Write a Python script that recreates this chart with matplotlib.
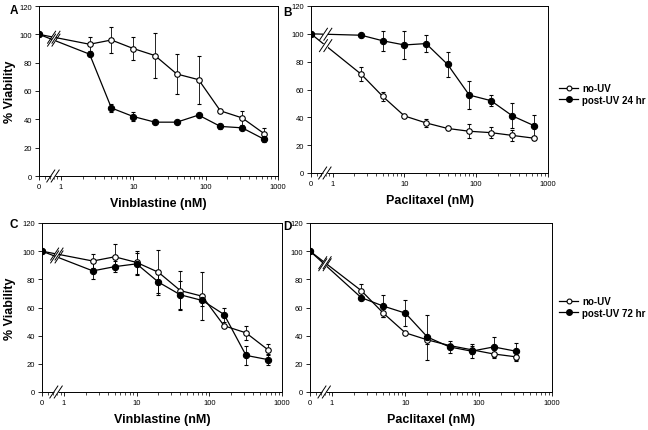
import matplotlib
matplotlib.use("Agg")
import matplotlib.pyplot as plt
from matplotlib.lines import Line2D
import numpy as np

plt.rcParams['font.family'] = ['Liberation Sans', 'DejaVu Sans']

# "0" concentration is drawn at x = 0.5 on the log axis
zero_pos = 0.5
conc = [2.5, 5, 10, 20, 40, 80, 160, 320, 640]
conc_d = [2.5, 5, 10, 20, 40, 80, 160, 320]

# panel A - vinblastine, 24 hr
a_no = [100, 93, 96, 90, 85, 72, 68, 46, 41, 30]
a_no_err = [0, 5, 9, 8, 16, 14, 17, 1, 5, 4]
a_post = [100, 86, 48, 42, 38, 38, 43, 35, 34, 26]
a_post_err = [0, 1, 3, 3, 1, 1, 1, 2, 1, 2]

# panel B - paclitaxel, 24 hr
b_no = [100, 71, 55, 41, 36, 32, 30, 29, 27, 25]
b_no_err = [0, 5, 3, 1, 3, 1, 5, 4, 4, 1]
b_post = [100, 99, 95, 92, 93, 78, 56, 52, 41, 34]
b_post_err = [0, 1, 7, 10, 6, 9, 10, 4, 9, 8]

# panel C - vinblastine, 72 hr
c_no = [100, 93, 96, 92, 85, 72, 68, 47, 42, 30]
c_no_err = [0, 5, 9, 8, 16, 14, 17, 1, 5, 4]
c_post = [100, 86, 89, 91, 78, 69, 65, 55, 26, 23]
c_post_err = [0, 6, 4, 8, 8, 10, 4, 5, 7, 4]

# panel D - paclitaxel, 72 hr
d_no = [100, 72, 56, 42, 37, 33, 30, 27, 25]
d_no_err = [0, 5, 3, 1, 3, 1, 3, 3, 3]
d_post = [100, 67, 61, 56, 39, 32, 29, 32, 29]
d_post_err = [0, 1, 8, 9, 16, 4, 5, 7, 6]

W, H = 648, 431
fig = plt.figure(figsize=(6.48, 4.31), dpi=100)


def px(l, r, t, b):
    return [l / W, (H - b) / H, (r - l) / W, (b - t) / H]


def strokes(ax, x0, y0, dx=2.2, sx=4, sy=6, gap_w=3):
    # "//" break marks centred on (x0, y0), with a white gap under them
    X, Y = ax.transData.transform((x0, y0))
    inv = ax.transData.inverted()
    a = inv.transform((X - dx, Y))
    b = inv.transform((X + dx, Y))
    ax.plot([a[0], b[0]], [y0, y0], color='white', lw=gap_w, zorder=5,
            clip_on=False, solid_capstyle='butt')
    for off in (-dx, dx):
        a = inv.transform((X + off - sx, Y - sy))
        b = inv.transform((X + off + sx, Y + sy))
        ax.plot([a[0], b[0]], [a[1], b[1]], color='black', lw=0.7,
                clip_on=False, zorder=6)


def line_y(x0, xs, ys):
    xl, xr = np.log10(xs[0]), np.log10(xs[1])
    t = (np.log10(x0) - xl) / (xr - xl)
    return ys[0] + t * (ys[1] - ys[0])


def panel(rect, xs, no, no_err, post, post_err, letter, lpos, xlabel,
          legend=None):
    ax = fig.add_axes(px(*rect))
    ax.set_xscale('log')
    ax.set_xlim(zero_pos, 1000)
    ax.set_ylim(0, 120)
    x_all = [zero_pos] + list(xs)
    for y, e, fc in ((no, no_err, 'white'), (post, post_err, 'black')):
        ax.errorbar(x_all, y, yerr=e, color='black', lw=0.9,
                    marker='o', ms=4.5 if fc == 'black' else 4,
                    mfc=fc, mec='black', mew=0.8,
                    elinewidth=0.6, capsize=1.5, capthick=0.6, zorder=3)
    for y in (no, post):
        strokes(ax, 0.8, line_y(0.8, [zero_pos, xs[0]], y))
    strokes(ax, 0.78, 0, gap_w=2.5)

    ax.set_xticks([zero_pos, 1, 10, 100, 1000])
    ax.set_xticklabels(['0', '1', '10', '100', '1000'])
    ax.set_yticks(range(0, 121, 20))
    ax.tick_params(axis='both', which='major', labelsize=5.5, length=3,
                   width=0.6, direction='out', pad=2)
    ax.tick_params(axis='x', which='minor', length=1.8, width=0.5)
    for s in ax.spines.values():
        s.set_linewidth(0.7)
    ax.set_xlabel(xlabel, fontsize=9, fontweight='bold', labelpad=5)
    if rect[0] < 100:
        fig.text(10 / W, 1 - (rect[2] + rect[3]) / 2 / H, '% Viability',
                 rotation=90, fontsize=9, fontweight='bold',
                 ha='center', va='center')
    fig.text(lpos[0] / W, 1 - lpos[1] / H, letter, fontsize=8.5,
             fontweight='bold', ha='center', va='center')
    if legend:
        hs = [Line2D([], [], color='black', lw=0.9, marker='o', ms=3.5,
                     mfc='white', mec='black', mew=0.8),
              Line2D([], [], color='black', lw=0.9, marker='o', ms=4,
                     mfc='black', mec='black')]
        fig.legend(hs, ['no-UV', legend], loc='center left',
                   bbox_to_anchor=(554 / W, 1 - legend_y[legend] / H),
                   frameon=False, prop={'weight': 'bold', 'size': 7},
                   handlelength=2.0, handletextpad=0.4, labelspacing=0.15,
                   borderpad=0)
    return ax


legend_y = {'post-UV 24 hr': 95, 'post-UV 72 hr': 308}

panel((39, 278, 7, 177), conc, a_no, a_no_err, a_post, a_post_err,
      'A', (14, 11), 'Vinblastine (nM)')
panel((311, 548, 7, 174), conc, b_no, b_no_err, b_post, b_post_err,
      'B', (287, 13), 'Paclitaxel (nM)', legend='post-UV 24 hr')
panel((42, 282, 224, 393), conc, c_no, c_no_err, c_post, c_post_err,
      'C', (14, 225), 'Vinblastine (nM)')
panel((310, 552, 224, 393), conc_d, d_no, d_no_err, d_post, d_post_err,
      'D', (287, 227), 'Paclitaxel (nM)', legend='post-UV 72 hr')

fig.savefig('out.png', dpi=100)
